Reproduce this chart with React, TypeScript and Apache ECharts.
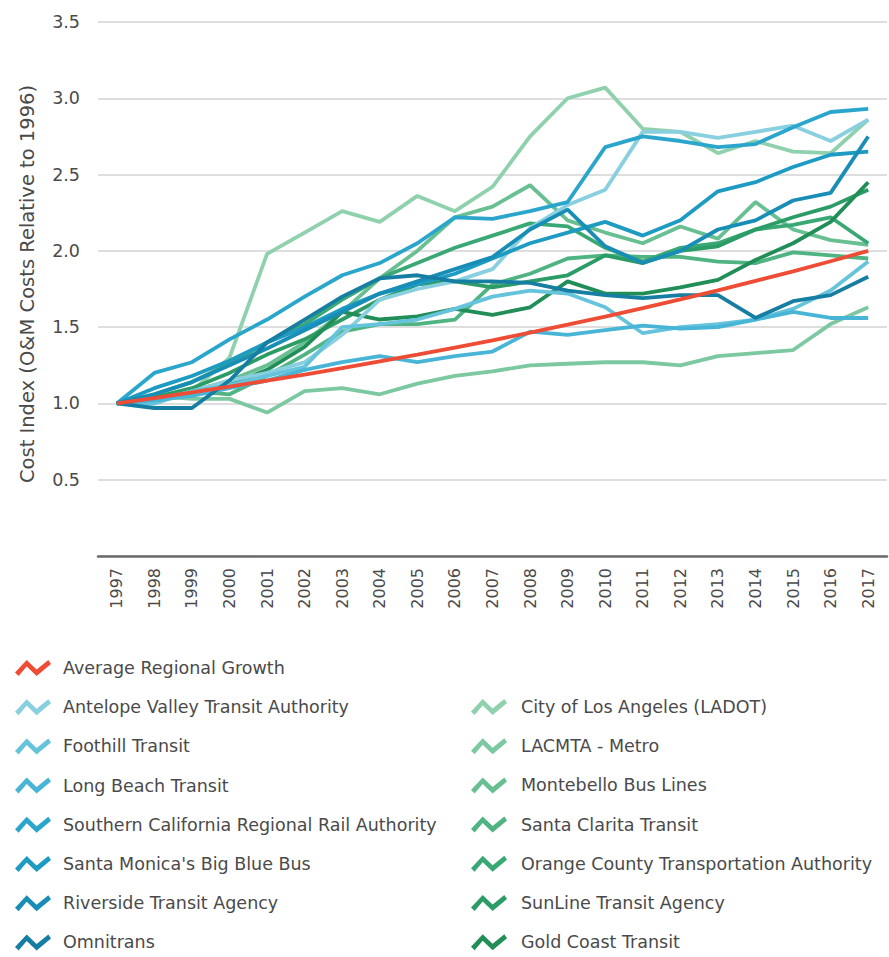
import React, { useEffect, useRef } from "react";
import * as echarts from "echarts";

const years = ["1997","1998","1999","2000","2001","2002","2003","2004","2005","2006","2007","2008","2009","2010","2011","2012","2013","2014","2015","2016","2017"];
const yTicks = [0, 0.5, 1.0, 1.5, 2.0, 2.5, 3.0, 3.5];

const averageRegional = [1.0,1.035,1.072,1.110,1.149,1.189,1.231,1.275,1.320,1.366,1.414,1.464,1.516,1.569,1.625,1.682,1.741,1.803,1.866,1.932,2.0];
const antelopeValley = [1.0,1.02,1.08,1.15,1.20,1.27,1.45,1.68,1.75,1.80,1.88,2.15,2.30,2.40,2.78,2.78,2.74,2.78,2.82,2.72,2.86];
const foothill = [1.0,1.0,1.08,1.12,1.18,1.24,1.50,1.52,1.55,1.62,1.70,1.74,1.72,1.63,1.46,1.50,1.52,1.55,1.62,1.74,1.93];
const longBeach = [1.0,1.02,1.05,1.10,1.15,1.22,1.27,1.31,1.27,1.31,1.34,1.47,1.45,1.48,1.51,1.49,1.50,1.55,1.60,1.56,1.56];
const scrra = [1.0,1.20,1.27,1.42,1.55,1.70,1.84,1.92,2.05,2.22,2.21,2.26,2.32,2.68,2.75,2.72,2.68,2.70,2.81,2.91,2.93];
const santaMonica = [1.0,1.10,1.18,1.28,1.40,1.50,1.62,1.72,1.78,1.85,1.95,2.05,2.12,2.19,2.10,2.20,2.39,2.45,2.55,2.63,2.65];
const riverside = [1.0,1.06,1.14,1.25,1.36,1.48,1.60,1.72,1.80,1.88,1.96,2.14,2.27,2.03,1.92,2.00,2.14,2.20,2.33,2.38,2.75];
const omnitrans = [1.0,0.97,0.97,1.15,1.40,1.55,1.70,1.82,1.84,1.80,1.80,1.79,1.74,1.71,1.69,1.71,1.71,1.56,1.67,1.71,1.83];
const ladot = [1.0,1.0,1.08,1.30,1.98,2.12,2.26,2.19,2.36,2.26,2.42,2.75,3.00,3.07,2.80,2.78,2.64,2.72,2.65,2.64,2.86];
const lacmta = [1.0,1.05,1.03,1.03,0.94,1.08,1.10,1.06,1.13,1.18,1.21,1.25,1.26,1.27,1.27,1.25,1.31,1.33,1.35,1.52,1.63];
const montebello = [1.0,1.03,1.08,1.15,1.25,1.40,1.60,1.82,2.00,2.22,2.29,2.43,2.20,2.12,2.05,2.16,2.08,2.32,2.14,2.07,2.04];
const santaClarita = [1.0,1.04,1.08,1.06,1.18,1.32,1.47,1.52,1.52,1.55,1.78,1.85,1.95,1.97,1.96,1.96,1.93,1.92,1.99,1.97,1.95];
const octa = [1.0,1.06,1.14,1.26,1.40,1.52,1.68,1.82,1.92,2.02,2.10,2.18,2.16,2.02,1.93,2.02,2.05,2.14,2.17,2.22,2.05];
const sunline = [1.0,1.04,1.10,1.20,1.32,1.42,1.55,1.68,1.78,1.80,1.76,1.80,1.84,1.97,1.92,2.00,2.03,2.14,2.22,2.29,2.40];
const goldCoast = [1.0,1.02,1.06,1.12,1.22,1.37,1.60,1.55,1.57,1.62,1.58,1.63,1.80,1.72,1.72,1.76,1.81,1.94,2.05,2.19,2.45];

const leftNames = [
  "Average Regional Growth",
  "Antelope Valley Transit Authority",
  "Foothill Transit",
  "Long Beach Transit",
  "Southern California Regional Rail Authority",
  "Santa Monica's Big Blue Bus",
  "Riverside Transit Agency",
  "Omnitrans",
];
const rightNames = [
  "City of Los Angeles (LADOT)",
  "LACMTA - Metro",
  "Montebello Bus Lines",
  "Santa Clarita Transit",
  "Orange County Transportation Authority",
  "SunLine Transit Agency",
  "Gold Coast Transit",
];

const seriesDefs = [
  { name: "City of Los Angeles (LADOT)", data: ladot, color: "#8fd1ac" },
  { name: "LACMTA - Metro", data: lacmta, color: "#7cc8a0" },
  { name: "Montebello Bus Lines", data: montebello, color: "#68bf92" },
  { name: "Santa Clarita Transit", data: santaClarita, color: "#4fb482" },
  { name: "Orange County Transportation Authority", data: octa, color: "#3aa874" },
  { name: "SunLine Transit Agency", data: sunline, color: "#2c9c66" },
  { name: "Gold Coast Transit", data: goldCoast, color: "#218e58" },
  { name: "Antelope Valley Transit Authority", data: antelopeValley, color: "#88cfe0" },
  { name: "Foothill Transit", data: foothill, color: "#66c3dc" },
  { name: "Long Beach Transit", data: longBeach, color: "#49b5d6" },
  { name: "Southern California Regional Rail Authority", data: scrra, color: "#2aa6cc" },
  { name: "Santa Monica's Big Blue Bus", data: santaMonica, color: "#1e9bc3" },
  { name: "Riverside Transit Agency", data: riverside, color: "#188db6" },
  { name: "Omnitrans", data: omnitrans, color: "#167ea3" },
  { name: "Average Regional Growth", data: averageRegional, color: "#ee4c35" },
];

const ICON = "path://M0 12.5 L13 0 L24 9.5 L37 0 L40 4 L24 16 L13 6.5 L4 16 Z";
const FONT = "'DejaVu Sans', sans-serif";
const TEXT_COLOR = "#4a4a4a";

export default function App() {
  const ref = useRef<HTMLDivElement>(null);
  useEffect(() => {
    if (!ref.current) return;
    const chart = echarts.init(ref.current, null, { renderer: "svg" });
    const legendBase = {
      orient: "vertical",
      icon: ICON,
      itemWidth: 36,
      itemHeight: 16,
      itemGap: 21.2,
      padding: 0,
      height: 330,
      symbolKeepAspect: false,
      selectedMode: false,
    };
    chart.setOption({
      animation: false,
      backgroundColor: "#ffffff",
      textStyle: { fontFamily: FONT },
      grid: { left: 98, right: 2, top: 22, bottom: 401, containLabel: false },
      legend: [
        {
          ...legendBase,
          data: leftNames,
          left: 15,
          top: 659,
          textStyle: { fontSize: 17.5, color: TEXT_COLOR, fontFamily: FONT, padding: [0, 0, 0, 7] },
        },
        {
          ...legendBase,
          data: rightNames,
          left: 471,
          top: 698,
          textStyle: { fontSize: 17.5, color: TEXT_COLOR, fontFamily: FONT, padding: [0, 0, 0, 9] },
        },
      ],
      xAxis: {
        type: "category",
        data: years,
        boundaryGap: true,
        axisLine: { show: true, lineStyle: { color: "#6b6b6b", width: 2.5 } },
        axisTick: { show: false },
        axisLabel: { rotate: 90, fontSize: 16, color: TEXT_COLOR, margin: 12, fontFamily: FONT },
        splitLine: { show: false },
      },
      yAxis: {
        type: "value",
        min: yTicks[0],
        max: yTicks[yTicks.length - 1],
        interval: 0.5,
        name: "Cost Index (O&M Costs Relative to 1996)",
        nameLocation: "middle",
        nameGap: 61,
        nameRotate: 90,
        nameTextStyle: { fontSize: 19.5, color: TEXT_COLOR, fontFamily: FONT, padding: [0, 0, 0, 10] },
        axisLine: { show: false },
        axisTick: { show: false },
        axisLabel: {
          fontSize: 17.5,
          color: TEXT_COLOR,
          margin: 18,
          fontFamily: FONT,
          formatter: (v: number) => (v === 0 ? "" : v.toFixed(1)),
        },
        splitLine: { show: true, lineStyle: { color: "#d3d3d3", width: 1.5 } },
      },
      series: seriesDefs.map((s) => ({
        name: s.name,
        type: "line",
        data: s.data,
        showSymbol: false,
        symbol: "none",
        color: s.color,
        lineStyle: { color: s.color, width: 3.8 },
        itemStyle: { color: s.color },
        z: s.name === "Average Regional Growth" ? 5 : 2,
      })),
    });
    return () => chart.dispose();
  }, []);
  return <div ref={ref} style={{ width: 889, height: 957, position: "absolute", left: 0, top: 0 }} />;
}
